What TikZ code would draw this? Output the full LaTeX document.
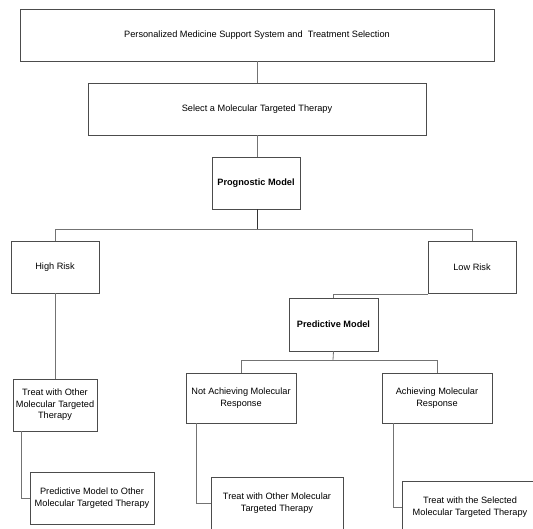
\documentclass[tikz,border=0pt]{standalone}
\usepackage{fontspec}
\setmainfont{Liberation Sans}
\usetikzlibrary{positioning}
\begin{document}
\begin{tikzpicture}[x=1pt,y=-1pt,
    box/.style={draw=black!70, line width=0.8pt, fill=white, align=center,
      inner sep=2pt, text=black, font=\fontsize{9.2}{11.5}\selectfont},
    link/.style={draw=black!55, line width=0.8pt}
    ]
\useasboundingbox (0,0) rectangle (533,528);
\clip (0,0) rectangle (533,528);

\node[box, minimum width=474, minimum height=52] (top) at (257,35) {Personalized Medicine Support System and \ Treatment Selection};
\node[box, minimum width=338, minimum height=52] (select) at (257,109) {Select a Molecular Targeted Therapy};
\node[box, minimum width=88, minimum height=52] (prog) at (256,183) {\textbf{Prognostic Model}};
\node[box, minimum width=88, minimum height=52] (high) at (55,267) {High Risk};
\node[box, minimum width=88, minimum height=52] (low) at (472,267) {Low Risk};
\node[box, minimum width=89, minimum height=53] (pred) at (333.5,324.5) {\textbf{Predictive Model}};
\node[box, minimum width=110, minimum height=50] (notach) at (241,398) {Not Achieving Molecular\\Response};
\node[box, minimum width=110, minimum height=50] (ach) at (437,398) {Achieving Molecular\\Response};
\node[box, minimum width=84, minimum height=52] (treatother) at (55,405) {Treat with Other\\Molecular Targeted\\Therapy};
\node[box, minimum width=124, minimum height=52] (predother) at (92,498) {Predictive Model to Other\\Molecular Targeted Therapy};
\node[box, minimum width=132, minimum height=52] (treatmid) at (277,503) {Treat with Other Molecular\\Targeted Therapy};
\node[box, minimum width=136, minimum height=52] (treatsel) at (470,507) {Treat with the Selected\\Molecular Targeted Therapy};

\coordinate (split) at (257,229);
\coordinate (split2) at (333,360);

\draw[link] (top) -- (select);
\draw[link] (select.south) -- (prog.north -| select.south);
\draw[link, black!80] (prog.south -| split) -- (split);
\draw[link] (split) -| (high.north);
\draw[link] (split) -| (low.north);
\draw[link] ([yshift=-1]low.south west) -| (pred.north);
\draw[link] (pred.south) -- (split2);
\draw[link] (split2) -| (notach.north);
\draw[link] (split2) -| (ach.north);
\draw[link] (high.south) -- (treatother.north);
\draw[link] ([xshift=9]treatother.south west) |- (predother.west);
\draw[link] ([xshift=11]notach.south west) |- (treatmid.west);
\draw[link] ([xshift=12]ach.south west) |- (treatsel.west);
\end{tikzpicture}
\end{document}
